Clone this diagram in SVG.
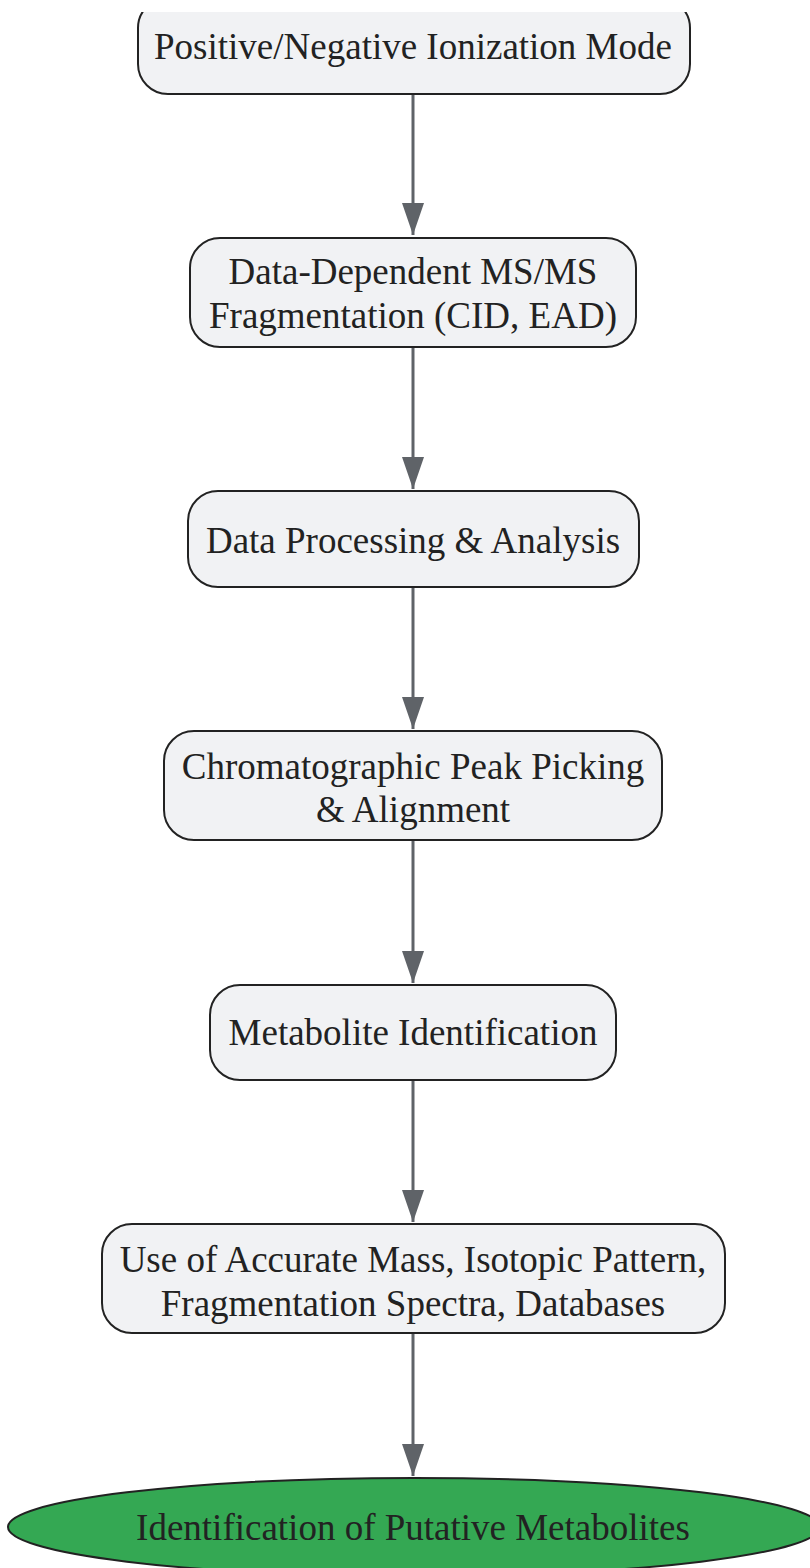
<svg xmlns="http://www.w3.org/2000/svg" width="810" height="1568" viewBox="0 0 810 1568">
<style>
.n{fill:#f1f2f4;stroke:#222;stroke-width:2}
.t{font-family:"Liberation Serif",serif;font-size:37px;fill:#222;text-anchor:middle}
.c{stroke:#5f6368;stroke-width:3;fill:none}
</style>
<defs>
<marker id="a" markerWidth="32" markerHeight="22" refX="32" refY="11" orient="auto" markerUnits="userSpaceOnUse" viewBox="0 0 32 22"><path d="M0,0 L32,11 L0,22 Z" fill="#5f6368"/></marker>
<clipPath id="cp"><rect x="0" y="12" width="810" height="1556"/></clipPath>
</defs>
<rect width="810" height="1568" fill="#fff"/>
<g id="connectors">
<path class="c" d="M413,94 V235" marker-end="url(#a)"/>
<path class="c" d="M413,347 V489" marker-end="url(#a)"/>
<path class="c" d="M413,587 V729" marker-end="url(#a)"/>
<path class="c" d="M413,840 V983" marker-end="url(#a)"/>
<path class="c" d="M413,1080 V1222" marker-end="url(#a)"/>
<path class="c" d="M413,1333 V1476" marker-end="url(#a)"/>
</g>
<g id="n1" clip-path="url(#cp)"><rect class="n" x="138" y="-2" width="552" height="96" rx="30"/><text class="t" x="413" y="59">Positive/Negative Ionization Mode</text></g>
<g id="n2"><rect class="n" x="190" y="238" width="446" height="109" rx="30"/><text class="t" x="413" y="284">Data-Dependent MS/MS</text><text class="t" x="413" y="328">Fragmentation (CID, EAD)</text></g>
<g id="n3"><rect class="n" x="188" y="491" width="451" height="96" rx="30"/><text class="t" x="413" y="553">Data Processing &amp; Analysis</text></g>
<g id="n4"><rect class="n" x="164" y="731" width="498" height="109" rx="30"/><text class="t" x="413" y="779">Chromatographic Peak Picking</text><text class="t" x="413" y="822">&amp; Alignment</text></g>
<g id="n5"><rect class="n" x="210" y="985" width="406" height="95" rx="30"/><text class="t" x="413" y="1045">Metabolite Identification</text></g>
<g id="n6"><rect class="n" x="102" y="1224" width="623" height="109" rx="30"/><text class="t" x="413" y="1272">Use of Accurate Mass, Isotopic Pattern,</text><text class="t" x="413" y="1316">Fragmentation Spectra, Databases</text></g>
<g id="n7"><ellipse cx="414" cy="1527" rx="406" ry="49" fill="#34a853" stroke="#222" stroke-width="2"/><text class="t" x="413" y="1540">Identification of Putative Metabolites</text></g>
</svg>
